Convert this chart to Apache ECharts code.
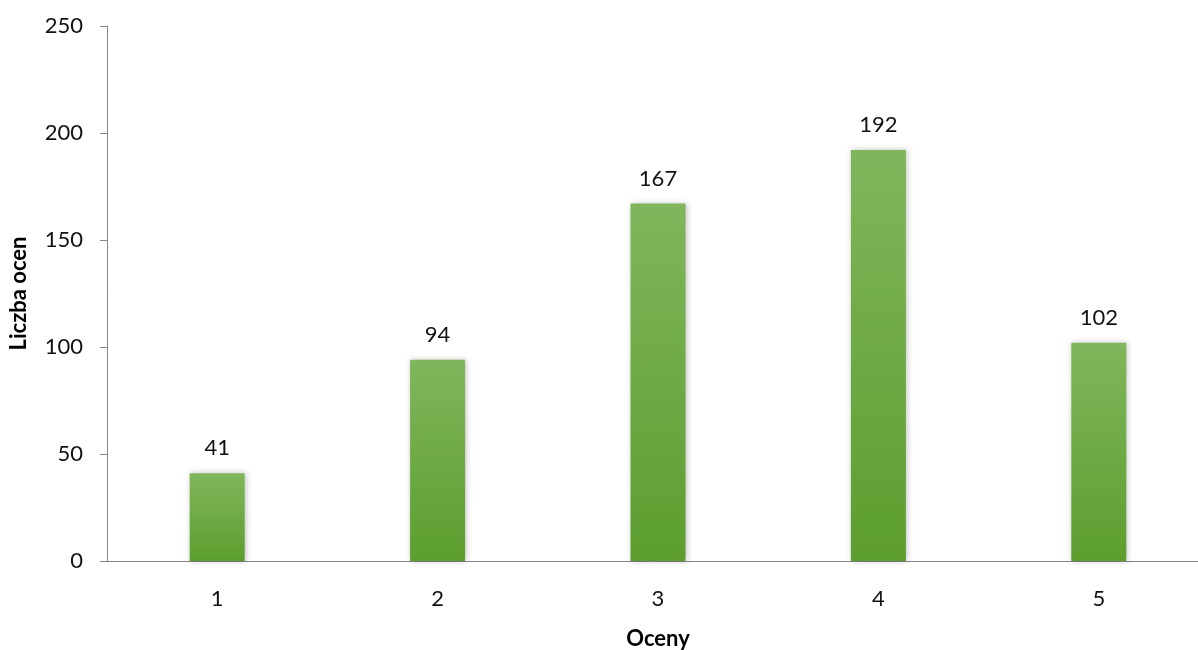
<!DOCTYPE html>
<html><head><meta charset="utf-8">
<script src="https://cdn.jsdelivr.net/npm/echarts@6/dist/echarts.min.js"></script>
<style>html,body{margin:0;padding:0;background:#fff}#c{width:1198px;height:650px}</style>
</head><body><div id="c"></div>
<script>
const categories = ['1', '2', '3', '4', '5'];
const values = [41, 94, 167, 192, 102];
const xName = 'Oceny';
const yName = 'Liczba ocen';
const FONT = 'Lato, "Open Sans", sans-serif';
const chart = echarts.init(document.getElementById('c'));
chart.setOption({
  animation: false,
  grid: { left: 107, right: -11, top: 26, bottom: 89, containLabel: false, outerBoundsMode: 'none' },
  xAxis: {
    type: 'category', data: categories,
    name: xName, nameLocation: 'middle', nameGap: 67,
    nameTextStyle: { fontFamily: FONT, fontWeight: 'bold', fontSize: 22, color: '#000' },
    axisLine: { lineStyle: { color: '#868686', width: 1 } },
    axisTick: { show: false },
    axisLabel: { fontFamily: FONT, fontSize: 22, color: '#111', margin: 27 }
  },
  yAxis: {
    type: 'value', min: 0, max: 250, interval: 50,
    name: yName, nameLocation: 'middle', nameGap: 77, nameRotate: 90,
    nameTextStyle: { fontFamily: FONT, fontWeight: 'bold', fontSize: 22, color: '#000' },
    axisLine: { show: true, lineStyle: { color: '#868686', width: 1 } },
    axisTick: { show: true, length: 7, lineStyle: { color: '#868686' } },
    splitLine: { show: false },
    axisLabel: { fontFamily: FONT, fontSize: 22, color: '#111', margin: 24 }
  },
  series: [{
    type: 'bar', data: values, barWidth: 55,
    itemStyle: {
      color: new echarts.graphic.LinearGradient(0, 0, 0, 1, [
        { offset: 0, color: '#80b65c' },
        { offset: 1, color: '#5c9e2e' }
      ]),
      shadowColor: 'rgba(0,0,0,0.25)', shadowBlur: 6, shadowOffsetX: 1, shadowOffsetY: 0
    },
    label: { show: true, position: 'top', distance: 14, fontFamily: FONT, fontSize: 22, color: '#111' }
  }]
});
</script></body></html>
